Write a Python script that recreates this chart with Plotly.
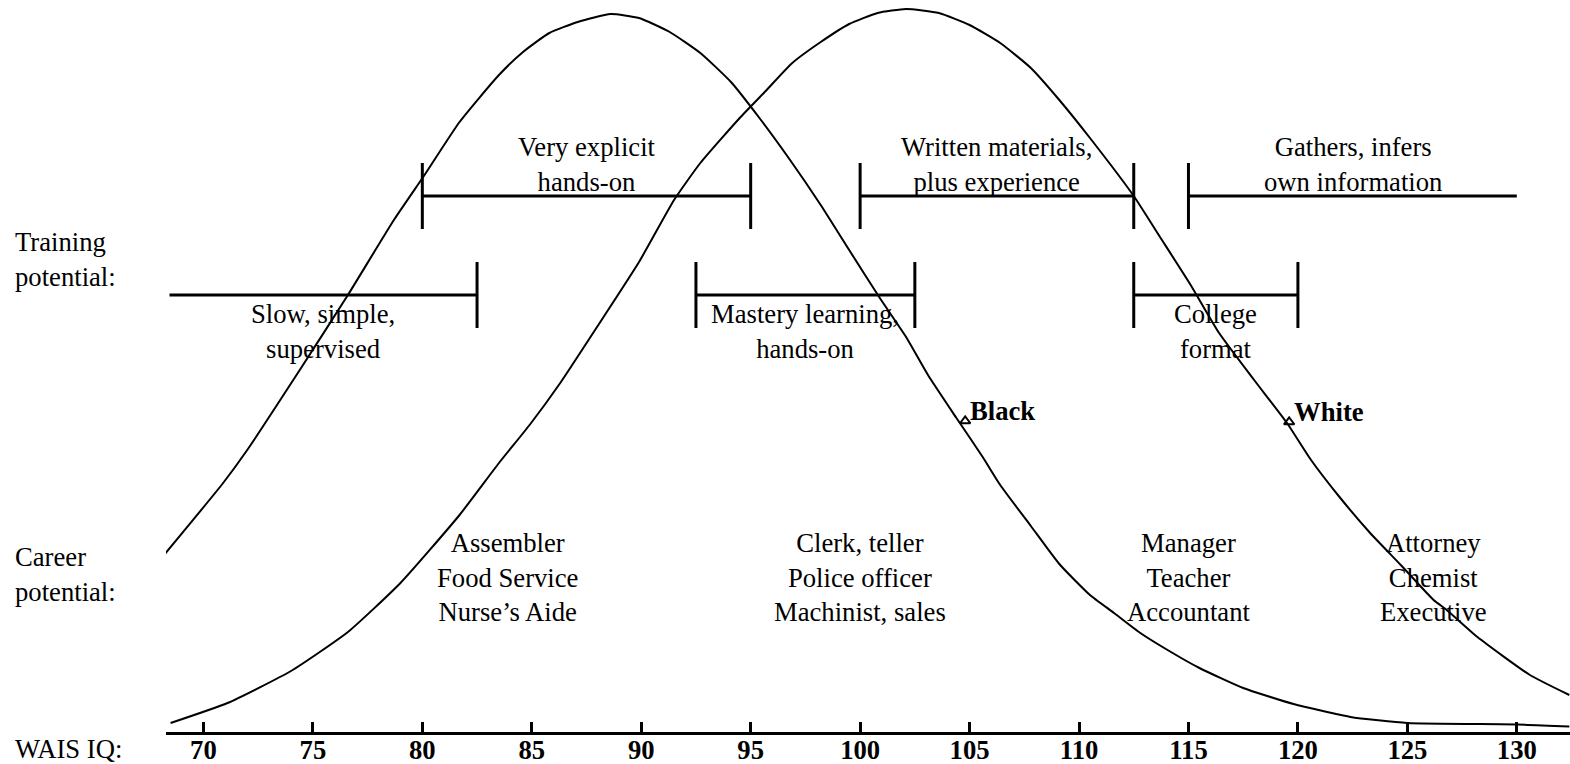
import plotly.graph_objects as go

# ---------------- data ----------------
iq_ticks = [70, 75, 80, 85, 90, 95, 100, 105, 110, 115, 120, 125, 130]

# Black distribution (IQ, relative height)
black_iq = [68.2, 70.9, 72.0, 74.4, 76.6, 78.7, 80.1, 81.7, 83.5, 84.6, 85.8, 87.1,
            88.6, 89.9, 91.3, 92.7, 94.1, 95.4, 96.8, 98.2, 99.5, 100.9, 102.1, 103.1,
            104.4, 105.6, 106.4, 107.8, 109.1, 110.5, 111.6, 112.8, 114.2, 115.5, 117.5,
            119.8, 122.4, 125.0, 130.0, 132.4]
black_h = [179, 251, 284, 364, 439, 514, 559, 612, 659, 682, 701, 712,
           720, 716, 702, 681, 652, 616, 574, 529, 484, 436, 397, 359,
           316, 277, 249, 208, 170, 139, 121, 101, 82, 66, 46,
           30, 17, 11, 9.5, 7.5]

# White distribution (IQ, relative height)
white_iq = [68.5, 71.1, 74.0, 76.6, 79.0, 81.7, 83.5, 84.9, 86.3, 88.1, 89.9, 91.5,
            92.7, 94.5, 95.6, 96.9, 98.2, 99.5, 100.8, 102.1, 103.6, 105.0, 106.4,
            107.8, 109.1, 110.5, 112.5, 113.7, 115.1, 116.4, 118.0, 119.5, 120.6,
            121.9, 123.3, 124.7, 126.2, 126.8, 128.2, 130.6, 132.4]
white_h = [11, 31, 63, 102, 151, 219, 271, 309, 351, 411, 472, 534,
           571, 616, 641, 671, 692, 710, 721, 725, 721, 709, 691,
           666, 634, 596, 538, 497, 449, 401, 354, 311, 274,
           237, 201, 169, 134, 124, 97, 59, 39]

# Training potential ranges
train_labels = ["Very explicit<br>hands-on", "Written materials,<br>plus experience",
                "Gathers, infers<br>own information", "Slow, simple,<br>supervised",
                "Mastery learning,<br>hands-on", "College<br>format"]
train_lo = [80, 100, 115, 68.45, 92.5, 112.5]
train_hi = [95, 112.5, 130, 82.5, 102.5, 120]
train_row = ["upper", "upper", "upper", "lower", "lower", "lower"]
train_cap_lo = [True, True, True, False, True, True]
train_cap_hi = [True, True, False, True, True, True]

# Career potential
career_labels = ["Assembler<br>Food Service<br>Nurse\u2019s Aide",
                 "Clerk, teller<br>Police officer<br>Machinist, sales",
                 "Manager<br>Teacher<br>Accountant",
                 "Attorney<br>Chemist<br>Executive"]
career_iq = [83.9, 100, 115, 126.2]

# Group labels on the curves
group_names = ["Black", "White"]
group_mark_iq = [104.8, 119.6]
group_mark_h = [313, 312]

# ---------------- styling ----------------
FONT = "Liberation Serif"
FS = 26.67
ROW_Y = {"upper": 538, "lower": 439}
CAP = 33
TEXT_OFF = {"upper": 32, "lower": -36}
PLOT_H = 732

fig = go.Figure()

for xs, ys in ((black_iq, black_h), (white_iq, white_h)):
    fig.add_trace(go.Scatter(x=xs, y=ys, mode="lines", line=dict(color="black", width=2),
                             line_shape="spline", line_smoothing=0.5, hoverinfo="skip"))

# brackets
bx, by = [], []
for lo, hi, row, clo, chi in zip(train_lo, train_hi, train_row, train_cap_lo, train_cap_hi):
    yy = ROW_Y[row]
    bx += [lo, hi, None]
    by += [yy, yy, None]
    if clo:
        bx += [lo, lo, None]
        by += [yy - CAP, yy + CAP, None]
    if chi:
        bx += [hi, hi, None]
        by += [yy - CAP, yy + CAP, None]
fig.add_trace(go.Scatter(x=bx, y=by, mode="lines", line=dict(color="black", width=3),
                         hoverinfo="skip"))

# group markers
fig.add_trace(go.Scatter(x=group_mark_iq, y=group_mark_h, mode="markers",
                         marker=dict(symbol="triangle-up-open", size=9, color="black",
                                     line=dict(width=2, color="black")),
                         hoverinfo="skip"))

ann = []
for lab, lo, hi, row in zip(train_labels, train_lo, train_hi, train_row):
    ann.append(dict(x=(lo + hi) / 2, y=ROW_Y[row] + TEXT_OFF[row], text=lab,
                    showarrow=False, xanchor="center", yanchor="middle",
                    font=dict(family=FONT, size=FS, color="black")))
for lab, x in zip(career_labels, career_iq):
    ann.append(dict(x=x, y=157, text=lab, showarrow=False, xanchor="center",
                    yanchor="middle", font=dict(family=FONT, size=FS, color="black")))
for name, x, h in zip(group_names, group_mark_iq, group_mark_h):
    ann.append(dict(x=x, y=h + 10, text="<b>" + name + "</b>", showarrow=False,
                    xanchor="left", yanchor="middle", xshift=3,
                    font=dict(family=FONT, size=FS, color="black")))

left_x = (13 - 166) / 1404
for txt, py in (("Training<br>potential:", 259), ("Career<br>potential:", 574.5),
                ("WAIS IQ:", 749)):
    ann.append(dict(x=left_x, xref="paper", y=(PLOT_H - py) / PLOT_H, yref="paper",
                    text=txt, showarrow=False,
                    xanchor="left", yanchor="middle", align="left",
                    font=dict(family=FONT, size=FS, color="black")))

fig.update_layout(
    width=1570, height=764,
    margin=dict(l=166, r=0, t=0, b=764 - PLOT_H, autoexpand=False),
    paper_bgcolor="white", plot_bgcolor="white",
    showlegend=False,
    annotations=ann,
    xaxis=dict(range=[68.29, 132.43], tickvals=iq_ticks, showline=True, linecolor="black",
               linewidth=3.3, ticks="inside", ticklen=10, tickwidth=3, tickcolor="black",
               showgrid=False, zeroline=False, fixedrange=True, automargin=False,
               ticklabelstandoff=-8,
               tickfont=dict(family=FONT, size=FS, color="black", weight="bold")),
    yaxis=dict(range=[2, 734], visible=False, fixedrange=True, automargin=False),
)

fig.write_html("out.html",
               config={"displayModeBar": False},
               post_script="document.body.style.margin='0px';"
                           "document.body.style.overflow='hidden';")
